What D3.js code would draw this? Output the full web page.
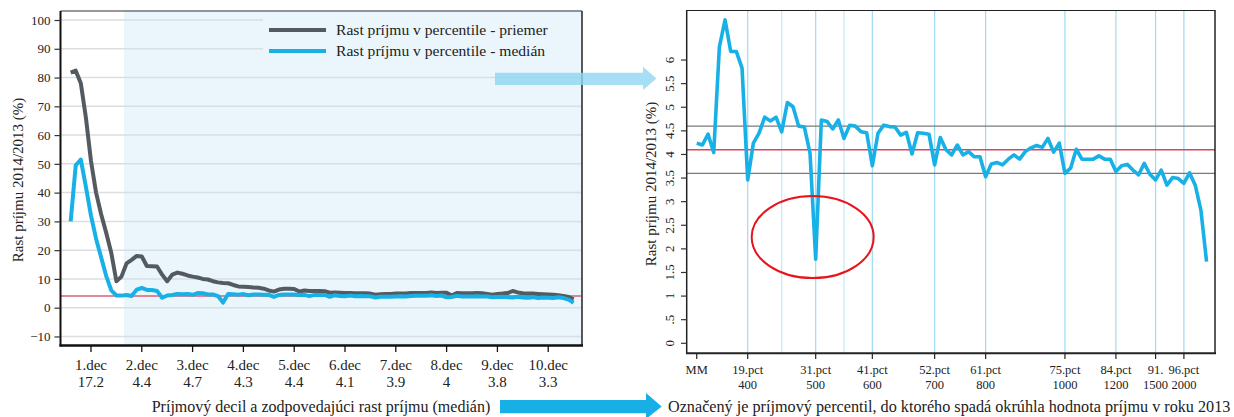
<!DOCTYPE html>
<html><head><meta charset="utf-8">
<script src="https://cdn.jsdelivr.net/npm/d3@7"></script>
<style>
html,body{margin:0;padding:0;background:#fff;}
svg{display:block;}
text{font-family:"Liberation Serif","DejaVu Serif",serif;fill:#222;}
</style></head>
<body>
<svg id="c" width="1234" height="417"></svg>
<script>
// ---------- DATA ----------
const percentiles = [1,2,3,4,5,6,7,8,9,10,11,12,13,14,15,16,17,18,19,20,21,22,23,24,25,26,27,28,29,30,
31,32,33,34,35,36,37,38,39,40,41,42,43,44,45,46,47,48,49,50,51,52,53,54,55,56,57,58,59,60,
61,62,63,64,65,66,67,68,69,70,71,72,73,74,75,76,77,78,79,80,81,82,83,84,85,86,87,88,89,90,
91,92,93,94,95,96,97,98,99,100];
// growth of mean income in percentile (%)
const meanGrowth = [81.7,82.4,78,66,51,40,32.5,26,19,9.2,
10.8,15.4,16.6,18,17.8,14.5,14.4,14.3,11.5,9.2,
11.5,12.2,11.8,11.2,10.8,10.5,10.0,9.8,9.2,8.8,
8.6,8.5,7.9,7.4,7.3,7.2,7.0,6.9,6.6,6.0,
5.6,6.3,6.6,6.6,6.5,5.6,6.0,5.8,5.8,5.8,
5.7,5.2,5.3,5.2,5.1,5.1,5.0,5.0,5.0,4.9,
4.5,4.7,4.8,4.8,4.9,4.9,4.9,5.1,5.1,5.1,
5.1,5.3,5.1,5.2,5.2,4.2,5.1,5.0,5.0,5.0,
5.1,5.0,4.8,4.5,4.8,4.9,5.1,5.8,5.3,5.0,
4.9,4.9,4.8,4.7,4.6,4.5,4.3,4.1,3.7,2.9];
// growth of median income in percentile (%)
const medianGrowth = [30,49.5,51.5,42,32,24,17.5,11,6,4.24,
4.20,4.43,4.04,6.28,6.85,6.18,6.18,5.83,3.46,4.24,
4.45,4.79,4.71,4.79,4.48,5.10,5.01,4.60,4.58,4.03,
1.78,4.73,4.70,4.54,4.73,4.34,4.62,4.60,4.48,4.46,
3.76,4.45,4.62,4.59,4.58,4.41,4.47,4.01,4.46,4.45,
4.43,3.78,4.36,4.10,3.99,4.20,3.99,4.06,3.95,3.95,
3.53,3.80,3.83,3.78,3.90,3.99,3.90,4.06,4.14,4.19,
4.15,4.34,4.05,4.24,3.60,3.71,4.11,3.90,3.90,3.90,
3.97,3.90,3.90,3.64,3.76,3.79,3.67,3.57,3.81,3.58,
3.46,3.67,3.35,3.51,3.49,3.39,3.61,3.35,2.82,1.73];
const overallMedian = 4.1;
const bandLow = 3.6, bandHigh = 4.6;

const decileLabels = ["1.dec","2.dec","3.dec","4.dec","5.dec","6.dec","7.dec","8.dec","9.dec","10.dec"];
const decileMedians = ["17.2","4.4","4.7","4.3","4.4","4.1","3.9","4","3.8","3.3"];
const decilePositions = [5,15,25,35,45,55,65,75,85,95];
const leftYTicks = [-10,0,10,20,30,40,50,60,70,80,90,100];

const pctTickPositions = [10,19,31,41,52,61,75,84,91,96];
const pctTickLabels = ["MM","19.pct","31.pct","41.pct","52.pct","61.pct","75.pct","84.pct","91.","96.pct"];
const incomeLabels = ["","400","500","600","700","800","1000","1200","1500","2000"];
const pctGridLines = [19,25,31,36,41,52,61,75,84,91,96];
const rightYTicks = [0,0.5,1,1.5,2,2.5,3,3.5,4,4.5,5,5.5,6];
const rightYTickLabels = ["0",".5","1","1.5","2","2.5","3","3.5","4","4.5","5","5.5","6"];
const highlightPct = 31, highlightValue = 2.25;

const seriesNames = ["Rast príjmu v percentile - priemer","Rast príjmu v percentile - medián"];

// ---------- STYLE ----------
const cMean = "#535b60", cMed = "#17b1e7", cShade = "#eaf6fc", cGrid = "#d8dee2";

const svg = d3.select("#c");

// ================= LEFT CHART =================
const xL = d3.scaleLinear().domain([-1.0, 101.65]).range([60.5, 582]);
const yL = d3.scaleLinear().domain([-13.14, 103.13]).range([345.5, 11]);
const L = svg.append("g");

// shaded region (deciles 2-10)
L.append("rect").attr("x", xL(11.5)).attr("y", 10).attr("width", 582 - xL(11.5)).attr("height", 345.5 - 10).attr("fill", cShade);

// gridlines
L.selectAll("line.g").data(leftYTicks).join("line")
  .attr("x1", 61).attr("x2", 581)
  .attr("y1", d => yL(d)).attr("y2", d => yL(d))
  .attr("stroke", cGrid).attr("stroke-width", 1.5);

// legend box (covers gridlines)
L.append("rect").attr("x", 263).attr("y", 11).attr("width", 318).attr("height", 60).attr("fill", cShade);

// red reference line
L.append("line").attr("x1", 61).attr("x2", 581).attr("y1", yL(overallMedian)).attr("y2", yL(overallMedian))
  .attr("stroke", "#d9607a").attr("stroke-width", 1.5);

// lines
const lineL = (vals) => d3.line().x((d,i) => xL(percentiles[i])).y(d => yL(d))(vals);
L.append("path").attr("d", lineL(meanGrowth)).attr("fill","none").attr("stroke", cMean)
  .attr("stroke-width", 4).attr("stroke-linejoin","round");
L.append("path").attr("d", lineL(medianGrowth)).attr("fill","none").attr("stroke", cMed)
  .attr("stroke-width", 4).attr("stroke-linejoin","round");

// frame
L.append("line").attr("x1", 60.5).attr("x2", 582).attr("y1", 11).attr("y2", 11).attr("stroke","#333").attr("stroke-width",1);
L.append("line").attr("x1", 582).attr("x2", 582).attr("y1", 11).attr("y2", 346).attr("stroke","#222").attr("stroke-width",1.5);
L.append("line").attr("x1", 60.5).attr("x2", 60.5).attr("y1", 11).attr("y2", 346.5).attr("stroke","#111").attr("stroke-width",2);
L.append("line").attr("x1", 59.5).attr("x2", 583).attr("y1", 345.5).attr("y2", 345.5).attr("stroke","#111").attr("stroke-width",2.5);

// y axis ticks
const yAxL = d3.axisLeft(yL).tickValues(leftYTicks).tickSize(6).tickPadding(4);
const gyL = L.append("g").attr("transform","translate(60.5,0)").call(yAxL);
gyL.select(".domain").remove();
gyL.selectAll(".tick line").attr("stroke","#333").attr("stroke-width",1.2);
gyL.selectAll(".tick text").attr("font-family","Liberation Serif").attr("font-size",13).attr("fill","#222");

// x axis ticks and two-line labels
const gxL = L.append("g");
gxL.selectAll("line").data(decilePositions).join("line")
  .attr("x1", d => xL(d)).attr("x2", d => xL(d)).attr("y1", 346).attr("y2", 352)
  .attr("stroke","#111").attr("stroke-width",1.3);
gxL.selectAll("text.a").data(decileLabels).join("text").attr("class","a")
  .attr("x", (d,i) => xL(decilePositions[i])).attr("y", 370).attr("text-anchor","middle")
  .attr("font-size",15).text(d => d);
gxL.selectAll("text.b").data(decileMedians).join("text").attr("class","b")
  .attr("x", (d,i) => xL(decilePositions[i])).attr("y", 387).attr("text-anchor","middle")
  .attr("font-size",15).text(d => d);

// axis titles
L.append("text").attr("x", 321).attr("y", 412).attr("text-anchor","middle").attr("font-size",16)
  .text("Príjmový decil a zodpovedajúci rast príjmu (medián)");
L.append("text").attr("transform","translate(23,180) rotate(-90)").attr("text-anchor","middle").attr("font-size",15)
  .text("Rast príjmu 2014/2013 (%)");

// legend
const lg = L.append("g");
[[cMean,30],[cMed,51]].forEach((d,i) => {
  lg.append("line").attr("x1",269).attr("x2",326).attr("y1",d[1]).attr("y2",d[1]).attr("stroke",d[0]).attr("stroke-width",4);
  lg.append("text").attr("x",336).attr("y",d[1]+5).attr("font-size",15.6).text(seriesNames[i]);
});

// ================= RIGHT CHART =================
const xR = d3.scaleLinear().domain([8.23, 101.49]).range([686.7, 1215]);
const yR = d3.scaleLinear().domain([-0.212, 7.06]).range([353.3, 10]);
const R = svg.append("g");

R.selectAll("line.vg").data(pctGridLines).join("line")
  .attr("x1", d => xR(d)).attr("x2", d => xR(d)).attr("y1", 10).attr("y2", 353)
  .attr("stroke", d => (d === 25 || d === 36) ? "#c3e9f7" : "#9fdaf1").attr("stroke-width", 1.2);

[[bandHigh,"#7a7a7a"],[overallMedian,"#d9455f"],[bandLow,"#7a7a7a"]].forEach(d => {
  R.append("line").attr("x1", 687).attr("x2", 1215).attr("y1", yR(d[0])).attr("y2", yR(d[0]))
    .attr("stroke", d[1]).attr("stroke-width", 1.4);
});

const rIdx = percentiles.map((p,i) => i).filter(i => percentiles[i] >= 10);
const lineR = d3.line().x(i => xR(percentiles[i])).y(i => yR(medianGrowth[i]));
R.append("path").attr("d", lineR(rIdx)).attr("fill","none").attr("stroke", cMed)
  .attr("stroke-width", 3.6).attr("stroke-linejoin","round");

// frame
R.append("line").attr("x1", 686.7).attr("x2", 1215).attr("y1", 10.5).attr("y2", 10.5).attr("stroke","#222").attr("stroke-width",1.2);
R.append("line").attr("x1", 1215).attr("x2", 1215).attr("y1", 10).attr("y2", 354).attr("stroke","#222").attr("stroke-width",1.5);
R.append("line").attr("x1", 686.7).attr("x2", 686.7).attr("y1", 10).attr("y2", 354).attr("stroke","#222").attr("stroke-width",1.5);
R.append("line").attr("x1", 686).attr("x2", 1216).attr("y1", 353.3).attr("y2", 353.3).attr("stroke","#222").attr("stroke-width",2);

// y ticks
const gyR = R.append("g");
gyR.selectAll("line").data(rightYTicks).join("line")
  .attr("x1", 681).attr("x2", 686.7).attr("y1", d => yR(d)).attr("y2", d => yR(d)).attr("stroke","#333").attr("stroke-width",1.2);
gyR.selectAll("text").data(rightYTickLabels).join("text")
  .attr("transform", (d,i) => `translate(673.5,${yR(rightYTicks[i])}) rotate(-90)`)
  .attr("text-anchor","middle").attr("font-size",13).text(d => d);

// x ticks
const gxR = R.append("g");
gxR.selectAll("line").data(pctTickPositions).join("line")
  .attr("x1", d => xR(d)).attr("x2", d => xR(d)).attr("y1", 354).attr("y2", 359)
  .attr("stroke","#222").attr("stroke-width",1.2);
gxR.selectAll("text.a").data(pctTickLabels).join("text").attr("class","a")
  .attr("x", (d,i) => xR(pctTickPositions[i])).attr("y", 374).attr("text-anchor","middle")
  .attr("font-size",12.5).text(d => d);
gxR.selectAll("text.b").data(incomeLabels).join("text").attr("class","b")
  .attr("x", (d,i) => xR(pctTickPositions[i])).attr("y", 388.5).attr("text-anchor","middle")
  .attr("font-size",12.5).text(d => d);

R.append("text").attr("transform","translate(656,184) rotate(-90)").attr("text-anchor","middle").attr("font-size",15)
  .text("Rast príjmu 2014/2013 (%)");
R.append("text").attr("x", 668).attr("y", 412).attr("font-size",16.2)
  .text("Označený je príjmový percentil, do ktorého spadá okrúhla hodnota príjmu v roku 2013");

// highlight ellipse
R.append("ellipse").attr("cx", xR(highlightPct) - 3).attr("cy", yR(highlightValue)).attr("rx", 61).attr("ry", 41)
  .attr("fill","none").attr("stroke","#e8141c").attr("stroke-width",2);

// ================= ARROWS =================
svg.append("path").attr("d","M495,72.7 L643,72.7 L643,66.7 L656.5,78.5 L643,90 L643,85 L495,85 Z")
  .attr("fill","#8fd6f2").attr("opacity",0.8);
svg.append("path").attr("d","M500,400 L646,400 L646,393 L661.7,406.5 L646,419 L646,413.3 L500,413.3 Z")
  .attr("fill","#18afe6");
</script>
</body></html>
